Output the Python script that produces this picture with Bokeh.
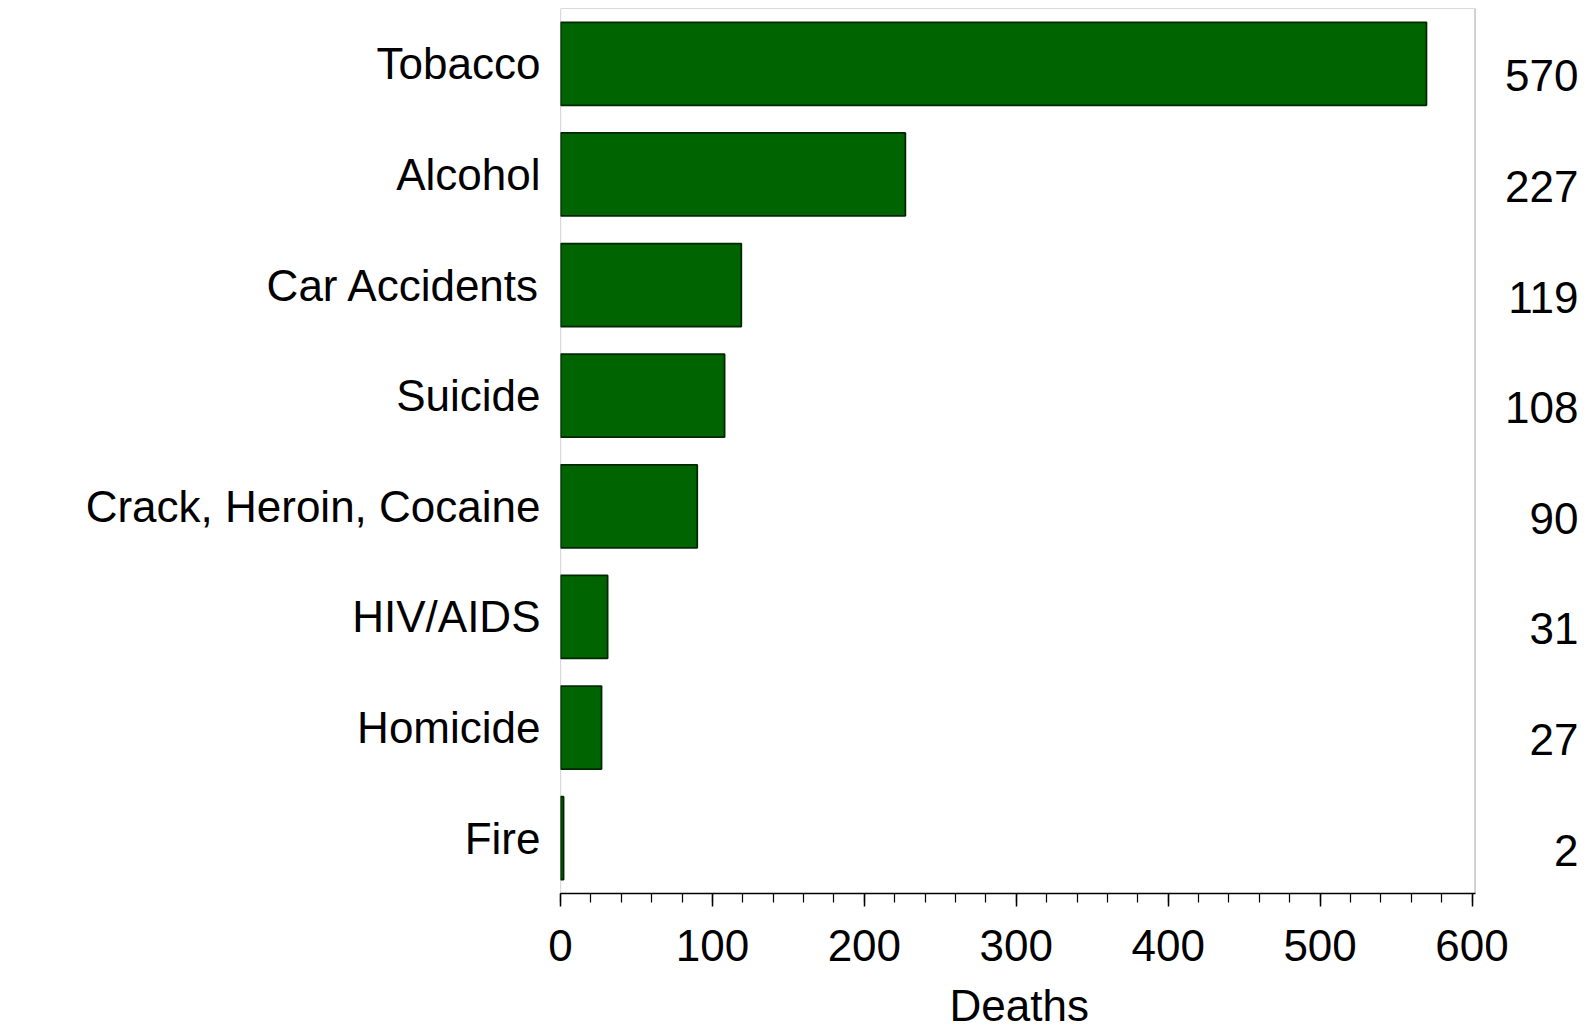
from bokeh.plotting import figure
from bokeh.models import Range1d, FixedTicker, BoxAnnotation, ColumnDataSource, Title
from bokeh.embed import file_html
from bokeh.resources import INLINE

categories = ["Tobacco", "Alcohol", "Car Accidents", "Suicide",
              "Crack, Heroin, Cocaine", "HIV/AIDS", "Homicide", "Fire"]
deaths = [570, 227, 119, 108, 90, 31, 27, 2]
x_ticks = [0, 100, 200, 300, 400, 500, 600]
x_title = "Deaths"

FONT = "Liberation Sans"
FS = "44px"
n = len(categories)
ypos = [n - i - 0.5 for i in range(n)]
AXIS_MAX = 602      # end of the visible axis / frame
LABEL_X = 670       # value labels sit to the right of the frame

src = ColumnDataSource(dict(y=ypos, right=deaths, cat=categories,
                            lx=[LABEL_X] * n, txt=[str(v) for v in deaths]))

p = figure(width=1600, height=1050, output_backend="svg", toolbar_location=None,
           x_range=Range1d(0, 678), y_range=Range1d(0, n),
           min_border_left=560, min_border_right=10, min_border_top=8,
           min_border_bottom=157)
p.background_fill_color = "white"
p.border_fill_color = "white"
p.outline_line_color = None
p.grid.visible = False

p.hbar(y="y", left=0, right="right", height=0.75, source=src,
       fill_color="#006400", line_color="#002800", line_width=1.8)

p.add_layout(BoxAnnotation(left=0, right=AXIS_MAX, bottom=0, top=n,
                           fill_alpha=0, line_color="black", line_width=1.2))

p.text(x="lx", y="y", text="txt", source=src, text_align="right",
       text_baseline="middle", y_offset=12, text_font={"value": FONT},
       text_font_size=FS, text_color="black")

xa = p.xaxis[0]
xa.bounds = (0, AXIS_MAX)
xa.ticker = FixedTicker(ticks=x_ticks,
                        minor_ticks=[v for v in range(0, 601, 20)])
xa.axis_line_color = "black"
xa.axis_line_width = 1.5
xa.major_tick_out = 13
xa.major_tick_in = 0
xa.minor_tick_out = 9
xa.minor_tick_in = 0
xa.major_tick_line_width = 1.5
xa.minor_tick_line_width = 1.2
xa.major_label_text_font = FONT
xa.major_label_text_font_size = FS
xa.major_label_text_color = "black"
xa.major_label_standoff = 23

# axis title centred under the visible axis (0..602), not the whole frame
p.add_layout(Title(text=x_title, align="left", offset=389, standoff=34,
                   text_font=FONT, text_font_size=FS, text_font_style="normal",
                   text_color="black", vertical_align="top"), "below")

ya = p.yaxis[0]
ya.ticker = FixedTicker(ticks=ypos)
ya.major_label_overrides = {y: c for y, c in zip(ypos, categories)}
ya.axis_line_color = None
ya.major_tick_line_color = None
ya.minor_tick_line_color = None
ya.major_label_standoff = 14
ya.major_label_text_font = FONT
ya.major_label_text_font_size = FS
ya.major_label_text_color = "black"

open("out.html", "w").write(file_html(p, INLINE))
